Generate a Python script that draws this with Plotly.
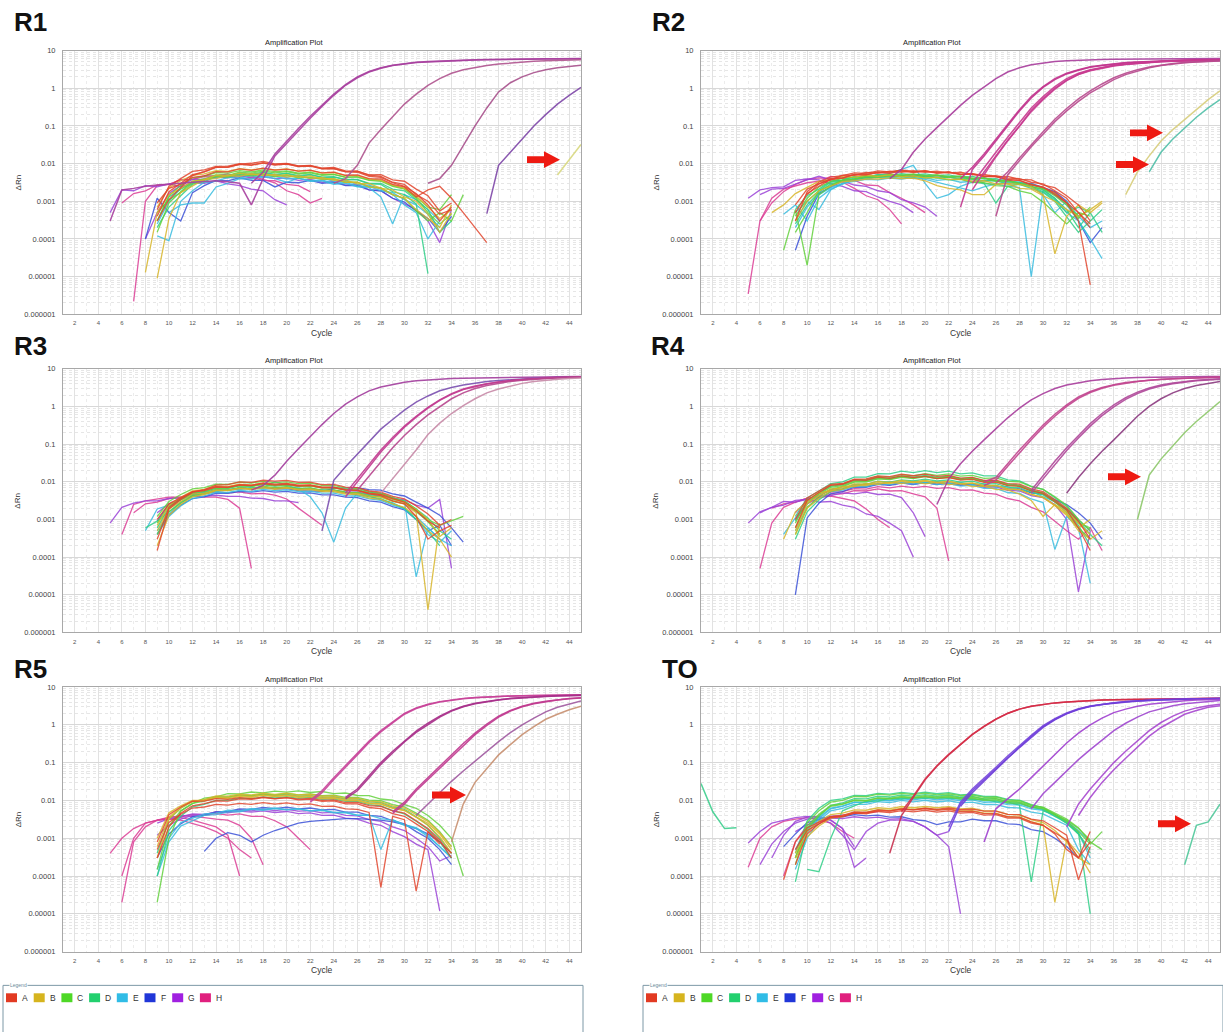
import plotly.graph_objects as go

W, H = 1223, 1032


def fx(x):
    return x / W


def fy(y):
    return 1 - y / H


# ---------------------------------------------------------------- data
CYCLE_TICKS = list(range(2, 45, 2))
DRN_TICKS = [1e-6, 1e-5, 1e-4, 1e-3, 1e-2, 1e-1, 1, 10]
DRN_LABELS = ["0.000001", "0.00001", "0.0001", "0.001", "0.01", "0.1", "1", "10"]
WELL_ROWS = ["A", "B", "C", "D", "E", "F", "G", "H"]

# baseline (non-amplifying) wells: (row, first cycle, ΔRn x 1e-3 per cycle)
r1_base = [
    ("A", 9, [0.4, 1.8, 3.0, 5.1, 6.0, 7.9, 8.1, 9.6, 10.2, 11.5, 9.8, 10.1, 8.7, 9.0, 7.6, 7.9, 6.4, 6.3, 4.9, 4.6, 3.2, 2.8, 1.5, 1.0, 0.45, 0.6]),
    ("A", 9, [0.9, 2.2, 2.8, 4.3, 4.7, 6.1, 6.0, 7.2, 6.6, 7.6, 6.7, 7.1, 6.3, 6.7, 5.7, 5.9, 4.9, 5.0, 4.0, 3.9, 2.8, 2.4, 1.3, 2.0, 2.5, 1.2, 0.5, 0.2, 0.08]),
    ("A", 9, [0.3, 1.1, 2.3, 4.8, 6.1, 8.0, 8.0, 9.5, 9.0, 10.3, 9.1, 9.7, 8.3, 8.6, 7.2, 7.4, 6.1, 6.3, 5.0, 5.1, 3.7, 3.4, 2.1, 1.4, 0.55, 0.9]),
    ("A", 9, [0.6, 2.5, 4.0, 6.2, 6.8, 8.4, 8.6, 9.9, 9.3, 10.6, 9.4, 9.9, 8.5, 8.8, 7.4, 7.4, 6.0, 5.9, 4.6, 4.3, 3.1, 2.5, 1.6, 0.8, 0.3, 0.7]),
    ("B", 8, [0.013, 0.5, 1.5, 2.2, 3.4, 3.7, 4.9, 4.7, 5.6, 5.1, 5.5, 4.7, 5.1, 4.3, 4.7, 3.9, 4.0, 3.2, 3.2, 2.4, 2.2, 1.5, 1.2, 0.6, 0.35, 0.2, 0.8]),
    ("B", 9, [0.009, 0.35, 1.7, 2.6, 3.8, 4.0, 4.9, 4.6, 5.4, 4.8, 5.2, 4.4, 4.8, 4.0, 4.3, 3.6, 3.7, 2.9, 3.0, 2.2, 2.0, 1.3, 1.0, 0.45, 0.15, 0.5]),
    ("B", 9, [0.7, 2.3, 3.5, 4.9, 5.3, 6.5, 6.2, 7.3, 6.8, 7.5, 6.8, 7.2, 6.3, 6.6, 5.6, 5.8, 4.8, 4.8, 3.9, 3.6, 2.7, 2.2, 1.4, 0.7, 0.35, 0.6]),
    ("C", 9, [0.15, 0.9, 1.8, 3.4, 3.9, 5.0, 4.9, 5.9, 5.6, 6.3, 5.7, 6.1, 5.3, 5.7, 4.9, 5.2, 4.3, 4.5, 3.7, 3.6, 2.6, 2.2, 1.3, 0.7, 0.6, 1.5]),
    ("C", 9, [0.5, 1.1, 1.7, 3.0, 3.6, 4.6, 4.4, 5.1, 4.7, 5.2, 4.5, 4.9, 4.2, 4.4, 3.8, 3.9, 3.2, 3.2, 2.4, 2.3, 1.5, 1.2, 0.55, 0.3, 0.5, 0.3, 1.5]),
    ("C", 9, [0.3, 1.4, 2.6, 4.2, 4.6, 5.8, 5.6, 6.5, 6.0, 6.8, 6.1, 6.4, 5.6, 5.9, 5.1, 5.2, 4.4, 4.4, 3.6, 3.4, 2.5, 2.1, 1.2, 0.5, 0.25, 0.45]),
    ("D", 9, [0.2, 0.7, 1.4, 2.8, 3.3, 4.5, 4.5, 5.3, 5.0, 5.7, 5.0, 5.4, 4.6, 5.0, 4.3, 4.4, 3.7, 3.7, 2.9, 2.8, 1.8, 1.5, 0.85, 0.012]),
    ("D", 9, [0.3, 1.3, 2.1, 3.3, 3.7, 4.8, 4.8, 5.6, 5.2, 5.9, 5.2, 5.6, 4.8, 5.2, 4.4, 4.5, 3.8, 3.8, 3.0, 3.0, 2.1, 1.9, 1.1, 0.6, 0.15, 0.3]),
    ("E", 9, [0.12, 0.09, 1.0, 1.9, 3.2, 3.4, 4.3, 4.1, 4.8, 4.3, 4.6, 3.9, 4.1, 3.4, 3.5, 2.8, 3.0, 2.4, 2.3, 1.3, 0.25, 1.5, 1.1, 0.6, 0.3]),
    ("E", 10, [0.5, 0.8, 0.9, 0.9, 2.4, 3.0, 4.0, 3.9, 4.6, 4.0, 3.2, 4.1, 3.5, 3.7, 3.0, 3.2, 2.5, 2.5, 1.9, 1.7, 1.1, 0.8, 0.45, 0.2]),
    ("E", 9, [0.25, 1.0, 2.2, 3.0, 3.9, 4.1, 4.9, 4.6, 5.3, 4.8, 5.1, 4.4, 4.7, 4.0, 4.1, 3.4, 3.5, 2.8, 2.7, 2.1, 1.5, 0.8, 0.5, 0.1, 0.3]),
    ("F", 8, [0.1, 1.2, 0.5, 0.3, 1.7, 2.6, 3.6, 3.5, 4.2, 3.6, 3.6, 2.4, 3.2, 3.1, 3.6, 3.0, 3.2, 2.6, 2.6, 2.0, 1.9, 1.2, 0.95, 0.55, 0.35, 0.15, 0.4]),
    ("G", 5, [0.5, 2.0, 1.9, 2.6, 2.4, 2.9, 2.4, 3.1, 3.0, 3.5, 2.9, 2.6, 2.1, 1.9, 1.1, 0.8]),
    ("G", 8, [0.1, 0.5, 1.6, 2.6, 3.8, 3.8, 4.5, 4.2, 4.8, 4.2, 4.6, 4.0, 4.2, 3.6, 3.8, 3.2, 3.3, 2.7, 2.8, 2.0, 1.9, 1.2, 0.85, 0.6, 0.3, 0.08, 0.6]),
    ("H", 7, [0.0022, 1.0, 2.6, 2.8, 3.7, 3.8, 4.5, 4.3, 4.8, 4.0, 4.2, 3.6, 3.5, 2.8, 2.6, 1.8]),
    ("H", 6, [0.9, 1.6, 1.9, 2.7, 2.8, 3.7, 3.8, 4.8, 4.7, 5.3, 4.6, 4.7, 3.8, 3.1, 1.9, 1.5, 0.9, 1.2]),
]
# amplifying wells: (row, first cycle, ΔRn per cycle)
r1_amp = [
    ("G", 5, [0.0003, 0.002, 0.0022, 0.0025, 0.0027, 0.0028, 0.003, 0.0032, 0.0033, 0.0035, 0.0033, 0.003, 0.0008, 0.004, 0.016, 0.035, 0.075, 0.16, 0.33, 0.65, 1.2, 1.9, 2.7, 3.4, 4.0, 4.4, 4.8, 5.0, 5.2, 5.4, 5.5, 5.6, 5.7, 5.8, 5.85, 5.9, 5.95, 6.0, 6.0, 6.05, 6.1]),
    ("G", 17, [0.003, 0.006, 0.018, 0.04, 0.085, 0.18, 0.36, 0.7, 1.25, 2.0, 2.8, 3.5, 4.1, 4.5, 4.9, 5.1, 5.3, 5.5, 5.6, 5.7, 5.8, 5.9, 5.95, 6.0, 6.05, 6.1, 6.1, 6.15, 6.2]),
    ("H", 24, [0.003, 0.004, 0.009, 0.035, 0.08, 0.18, 0.38, 0.7, 1.2, 1.8, 2.5, 3.1, 3.6, 4.0, 4.4, 4.7, 5.0, 5.2, 5.4, 5.5, 5.6, 5.7]),
    ("H", 32, [0.003, 0.004, 0.009, 0.03, 0.1, 0.3, 0.8, 1.4, 2.0, 2.6, 3.1, 3.5, 3.8, 4.1]),
    ("G", 37, [0.00047, 0.009, 0.02, 0.045, 0.1, 0.2, 0.38, 0.65, 1.05]),
    ("B", 43, [0.005, 0.013, 0.032]),
]

r2_base = [
    ("A", 9, [0.5, 1.6, 2.5, 3.8, 4.1, 5.1, 5.0, 5.8, 5.5, 6.3, 5.8, 6.2, 5.6, 5.9, 5.2, 5.4, 4.7, 4.8, 4.1, 4.0, 3.2, 2.9, 1.9, 1.2, 0.5, 0.25]),
    ("A", 9, [0.8, 2.1, 2.9, 4.0, 4.2, 5.2, 5.1, 5.9, 5.9, 6.8, 6.1, 6.5, 5.7, 6.0, 5.2, 5.4, 4.5, 4.5, 3.7, 3.6, 2.7, 2.4, 1.5, 0.9, 0.3, 0.006]),
    ("A", 10, [1.5, 2.9, 3.7, 4.9, 4.9, 5.8, 5.6, 6.3, 5.9, 6.5, 5.9, 6.3, 5.6, 5.9, 5.1, 5.2, 4.5, 4.6, 3.8, 3.7, 2.7, 2.3, 1.4, 0.8, 0.3]),
    ("A", 9, [0.3, 1.8, 3.2, 4.4, 4.8, 5.7, 5.5, 6.4, 6.0, 6.6, 6.0, 6.4, 5.7, 5.9, 5.2, 5.2, 4.6, 4.5, 3.8, 3.6, 2.8, 2.3, 1.7, 0.9, 0.5, 0.2]),
    ("B", 9, [0.3, 1.0, 1.9, 2.5, 3.3, 3.5, 3.9, 3.9, 4.2, 4.0, 4.1, 3.5, 2.6, 2.2, 2.0, 1.5, 1.5, 2.8, 3.0, 2.8, 2.4, 1.5, 0.04, 0.4, 0.8, 0.5, 0.9]),
    ("B", 7, [0.5, 0.8, 1.6, 2.3, 3.4, 3.7, 4.5, 4.4, 4.9, 4.6, 5.0, 4.5, 4.7, 4.2, 4.4, 3.8, 3.9, 3.4, 3.5, 2.9, 2.9, 2.2, 2.1, 1.4, 1.0, 0.6, 0.4, 0.6, 1.0]),
    ("C", 9, [0.15, 0.5, 1.9, 2.7, 3.7, 3.8, 4.6, 4.4, 5.0, 4.7, 5.1, 4.6, 4.9, 4.3, 4.5, 3.9, 4.1, 3.4, 3.4, 2.9, 2.5, 2.1, 1.4, 0.8, 0.4, 0.6]),
    ("C", 8, [0.05, 0.6, 0.02, 1.5, 2.5, 3.6, 3.8, 4.5, 4.3, 4.8, 4.4, 4.6, 4.2, 4.2, 3.7, 3.8, 3.2, 3.1, 2.6, 2.5, 1.9, 1.6, 0.95, 0.5, 0.25, 0.5, 0.4]),
    ("C", 9, [0.4, 1.2, 2.4, 3.3, 4.1, 4.3, 4.9, 4.7, 5.2, 4.9, 5.3, 4.8, 5.0, 4.5, 4.7, 4.1, 4.2, 3.6, 3.6, 3.0, 2.8, 2.2, 1.6, 0.9, 0.35, 0.7]),
    ("D", 9, [0.3, 1.0, 1.9, 3.2, 3.6, 4.5, 4.4, 5.1, 4.9, 5.4, 5.0, 5.3, 4.8, 5.0, 4.4, 4.6, 3.9, 4.0, 3.3, 3.2, 2.5, 2.0, 1.2, 0.6, 0.2, 0.5, 0.15]),
    ("D", 9, [0.6, 1.4, 2.1, 3.4, 3.7, 4.5, 4.3, 4.9, 4.6, 5.0, 4.5, 4.7, 4.2, 4.4, 3.8, 3.9, 3.0, 0.9, 2.5, 2.8, 2.4, 1.8, 1.1, 0.5, 0.7, 0.5]),
    ("D", 9, [0.25, 0.8, 1.7, 2.9, 3.4, 4.1, 4.0, 4.6, 4.4, 4.8, 4.5, 4.7, 4.3, 4.4, 4.0, 4.0, 3.5, 3.5, 2.9, 2.8, 2.2, 1.7, 1.0, 0.4, 0.15, 0.3, 0.6]),
    ("E", 8, [0.45, 0.8, 0.3, 1.2, 2.1, 2.8, 3.8, 3.8, 4.4, 4.1, 4.5, 4.0, 4.2, 3.6, 3.8, 3.2, 3.4, 2.9, 2.9, 2.5, 2.3, 0.01, 2.0, 1.2, 0.5, 0.3, 0.1]),
    ("E", 9, [0.5, 1.0, 0.6, 2.0, 3.0, 3.8, 4.5, 5.0, 5.5, 7.0, 9.0, 3.0, 1.2, 1.5, 2.5, 3.2, 3.5, 3.6, 3.4, 3.2, 2.8, 2.2, 1.5, 0.8, 0.3, 0.1, 0.03]),
    ("E", 9, [0.2, 0.7, 1.5, 2.3, 3.0, 3.4, 3.8, 3.7, 4.1, 3.9, 4.3, 3.8, 3.2, 2.6, 2.2, 1.9, 2.4, 2.9, 3.1, 2.9, 2.5, 1.5, 0.5, 1.0, 0.4, 0.2, 0.3]),
    ("F", 9, [0.05, 0.4, 1.6, 2.4, 3.4, 3.6, 4.4, 4.3, 4.9, 4.6, 5.0, 4.5, 4.8, 4.3, 4.6, 4.0, 4.2, 3.6, 3.7, 3.0, 3.0, 2.3, 1.8, 1.0, 0.3, 0.08, 0.2]),
    ("G", 5, [1.2, 2.0, 2.3, 2.4, 3.6, 3.9, 3.7, 2.9, 2.5, 1.9, 1.8, 1.3, 1.0, 0.8, 0.5]),
    ("G", 6, [1.5, 2.1, 2.2, 2.9, 3.7, 4.6, 3.7, 3.4, 2.7, 2.5, 1.9, 1.7, 1.1, 0.9, 0.7, 0.4]),
    ("H", 5, [0.0035, 0.3, 0.9, 1.8, 2.8, 3.8, 4.2, 4.0, 3.2, 2.2, 1.4, 1.1, 0.6, 0.25]),
    ("H", 6, [0.3, 1.2, 2.1, 2.5, 3.1, 3.4, 4.6, 4.1, 3.6, 2.7, 2.6, 1.7, 1.2, 0.8, 0.5]),
]
r2_amp = [
    ("G", 17, [0.004, 0.007, 0.02, 0.045, 0.09, 0.18, 0.35, 0.65, 1.1, 1.8, 2.7, 3.5, 4.2, 4.7, 5.1, 5.4, 5.6, 5.7, 5.8, 5.85, 5.9, 5.95, 6.0, 6.05, 6.1, 6.1, 6.15, 6.2, 6.2]),
    ("H", 23, [0.0007, 0.007, 0.016, 0.04, 0.1, 0.25, 0.55, 1.05, 1.7, 2.4, 3.0, 3.6, 4.0, 4.4, 4.7, 4.9, 5.1, 5.3, 5.4, 5.5, 5.6, 5.65, 5.7]),
    ("H", 23, [0.004, 0.008, 0.018, 0.045, 0.11, 0.27, 0.6, 1.1, 1.8, 2.5, 3.1, 3.7, 4.1, 4.5, 4.8, 5.0, 5.2, 5.4, 5.5, 5.6, 5.7, 5.75, 5.8]),
    ("H", 24, [0.003, 0.008, 0.02, 0.05, 0.12, 0.3, 0.6, 1.1, 1.8, 2.5, 3.1, 3.6, 4.1, 4.4, 4.7, 4.95, 5.15, 5.3, 5.4, 5.5, 5.6, 5.65]),
    ("H", 24, [0.002, 0.006, 0.016, 0.042, 0.1, 0.26, 0.53, 1.0, 1.65, 2.35, 3.0, 3.5, 4.0, 4.35, 4.65, 4.9, 5.1, 5.25, 5.35, 5.45, 5.55, 5.6]),
    ("H", 25, [0.005, 0.015, 0.04, 0.1, 0.24, 0.5, 0.95, 1.6, 2.3, 2.9, 3.4, 3.9, 4.3, 4.6, 4.85, 5.05, 5.2, 5.3, 5.4, 5.5, 5.55]),
    ("H", 26, [0.0004, 0.005, 0.012, 0.028, 0.06, 0.13, 0.25, 0.45, 0.75, 1.15, 1.7, 2.3, 2.9, 3.5, 4.0, 4.4, 4.75, 5.0, 5.2, 5.3]),
    ("H", 26, [0.003, 0.006, 0.014, 0.032, 0.07, 0.15, 0.29, 0.52, 0.85, 1.3, 1.9, 2.5, 3.1, 3.65, 4.15, 4.55, 4.85, 5.1, 5.25, 5.35]),
    ("B", 37, [0.0015, 0.006, 0.016, 0.04, 0.08, 0.15, 0.28, 0.5, 0.85]),
    ("D", 39, [0.006, 0.02, 0.045, 0.09, 0.17, 0.3, 0.5]),
]

r3_base = [
    ("A", 9, [0.3, 2.1, 3.6, 5.3, 5.8, 7.2, 7.1, 8.2, 7.9, 8.9, 8.2, 8.6, 7.7, 7.9, 6.9, 7.0, 6.0, 5.9, 5.0, 4.6, 3.6, 2.9, 1.7, 0.9, 0.6]),
    ("A", 9, [1.0, 2.6, 3.8, 5.5, 6.0, 7.4, 7.2, 8.4, 8.1, 9.3, 8.7, 9.1, 8.1, 8.3, 7.2, 7.2, 6.2, 5.9, 4.8, 4.3, 3.1, 2.6, 1.2, 0.3, 0.5, 0.7]),
    ("A", 9, [0.15, 1.9, 3.4, 5.3, 6.2, 8.2, 8.4, 9.9, 9.6, 11.0, 10.4, 10.9, 9.6, 9.8, 8.4, 8.5, 7.2, 7.0, 5.7, 5.3, 4.1, 3.5, 2.3, 1.4, 0.7, 1.0]),
    ("B", 9, [0.5, 1.9, 3.0, 4.7, 5.0, 6.1, 6.0, 6.8, 6.5, 7.4, 6.7, 7.1, 6.3, 6.5, 5.8, 5.8, 5.0, 4.9, 4.1, 3.9, 3.0, 2.6, 1.5, 0.004, 0.8]),
    ("B", 9, [0.2, 1.3, 2.5, 4.0, 4.6, 5.8, 5.8, 6.6, 6.2, 6.9, 6.3, 6.8, 6.0, 6.2, 5.5, 5.5, 4.7, 4.6, 3.7, 3.4, 2.6, 2.1, 1.2, 0.5, 0.3, 0.1]),
    ("B", 9, [0.7, 2.4, 3.9, 5.7, 6.3, 7.7, 7.5, 8.6, 8.2, 9.1, 8.4, 8.8, 7.9, 8.1, 7.1, 7.1, 6.1, 5.9, 4.9, 4.5, 3.5, 2.9, 1.8, 1.0, 0.35, 0.6]),
    ("C", 9, [0.8, 2.3, 3.4, 5.1, 5.6, 6.8, 6.7, 7.8, 7.5, 8.4, 7.7, 8.2, 7.4, 7.7, 6.8, 6.9, 5.9, 5.9, 4.9, 4.6, 3.4, 2.9, 1.8, 1.0, 0.7, 0.9, 1.2]),
    ("C", 9, [0.4, 1.6, 2.7, 4.2, 4.8, 6.0, 5.9, 6.9, 6.6, 7.4, 6.9, 7.3, 6.6, 6.8, 6.0, 6.1, 5.3, 5.2, 4.3, 4.0, 3.1, 2.6, 1.6, 0.9, 0.4]),
    ("C", 9, [1.2, 3.0, 4.6, 6.5, 7.0, 8.6, 8.5, 9.8, 9.3, 10.3, 9.5, 10.0, 8.9, 9.2, 8.0, 8.0, 6.8, 6.7, 5.5, 5.0, 3.8, 3.0, 1.9, 0.9, 0.4]),
    ("D", 9, [0.6, 2.1, 3.3, 4.9, 5.4, 6.7, 6.8, 7.8, 7.7, 8.6, 8.1, 8.5, 7.8, 8.0, 7.1, 7.2, 6.2, 6.2, 5.2, 4.9, 3.7, 3.1, 1.9, 1.1, 0.5, 0.3]),
    ("D", 8, [0.6, 0.9, 1.6, 2.9, 4.4, 4.9, 6.1, 6.0, 7.0, 6.7, 7.5, 6.9, 7.4, 6.6, 6.9, 5.9, 6.0, 5.1, 5.0, 4.0, 3.6, 2.6, 2.0, 1.0, 0.5, 0.2]),
    ("E", 9, [0.5, 1.4, 2.8, 4.0, 5.0, 5.6, 6.0, 6.4, 6.6, 7.0, 10.0, 8.0, 6.5, 4.0, 1.5, 0.25, 2.0, 5.0, 4.6, 4.2, 3.8, 3.0, 0.03, 0.6, 0.3]),
    ("E", 8, [0.5, 1.9, 2.4, 3.7, 4.3, 5.5, 5.6, 6.5, 6.2, 7.1, 6.7, 7.3, 6.7, 6.9, 6.1, 6.2, 5.4, 5.3, 4.4, 4.2, 3.3, 2.8, 1.9, 1.2, 0.6, 0.3, 0.2]),
    ("E", 9, [0.4, 1.2, 2.3, 3.6, 4.2, 5.2, 5.2, 5.9, 5.6, 6.3, 5.8, 6.1, 5.5, 5.6, 5.0, 5.0, 4.3, 4.2, 3.5, 3.2, 2.4, 1.9, 1.0, 0.4, 0.25, 0.5]),
    ("F", 9, [0.9, 2.5, 3.4, 4.6, 5.0, 6.1, 6.0, 6.9, 6.6, 7.3, 6.5, 6.6, 5.8, 5.8, 5.6, 6.7, 6.8, 7.0, 6.2, 6.0, 4.8, 4.2, 2.9, 2.0, 1.3, 0.6, 0.25]),
    ("F", 9, [0.4, 1.3, 2.4, 3.6, 4.0, 5.0, 4.9, 5.6, 5.3, 5.8, 5.3, 5.6, 5.0, 5.1, 4.5, 4.5, 3.9, 3.8, 3.1, 2.9, 2.2, 1.8, 1.0, 0.5, 0.7, 0.2]),
    ("G", 5, [0.8, 2.1, 2.7, 3.1, 3.1, 3.6, 3.7, 4.1, 4.1, 4.4, 4.1, 4.1, 3.7, 3.6, 3.1, 3.1, 2.8]),
    ("G", 9, [1.5, 2.6, 3.4, 4.7, 5.1, 6.1, 6.0, 6.8, 6.5, 7.1, 6.6, 6.9, 6.3, 6.5, 5.9, 6.0, 5.3, 5.4, 4.6, 4.5, 3.7, 3.3, 2.4, 2.0, 3.4, 0.05]),
    ("H", 6, [0.4, 2.5, 3.1, 3.4, 3.9, 3.9, 4.3, 3.9, 3.9, 3.4, 2.0, 0.05]),
    ("H", 7, [1.5, 2.6, 2.9, 3.6, 3.9, 4.7, 4.8, 5.4, 5.1, 5.4, 4.8, 4.9, 4.4, 3.5, 2.0, 1.2, 0.7]),
]
r3_amp = [
    ("G", 17, [0.006, 0.008, 0.015, 0.035, 0.075, 0.16, 0.33, 0.65, 1.15, 1.8, 2.6, 3.3, 3.9, 4.4, 4.8, 5.1, 5.3, 5.5, 5.6, 5.7, 5.8, 5.9, 5.95, 6.0, 6.05, 6.1, 6.15, 6.2, 6.25]),
    ("G", 23, [0.0005, 0.011, 0.025, 0.055, 0.12, 0.25, 0.45, 0.8, 1.3, 1.9, 2.6, 3.2, 3.7, 4.2, 4.6, 4.9, 5.2, 5.4, 5.6, 5.8, 5.9, 6.0, 6.1]),
    ("H", 25, [0.005, 0.012, 0.03, 0.07, 0.15, 0.3, 0.55, 0.95, 1.5, 2.2, 2.9, 3.5, 4.0, 4.5, 4.9, 5.2, 5.5, 5.7, 5.85, 6.0, 6.1]),
    ("H", 25, [0.004, 0.01, 0.026, 0.062, 0.135, 0.28, 0.52, 0.9, 1.45, 2.1, 2.8, 3.4, 3.95, 4.45, 4.85, 5.15, 5.45, 5.65, 5.8, 5.95, 6.05]),
    ("H", 26, [0.006, 0.014, 0.035, 0.08, 0.17, 0.33, 0.6, 1.0, 1.6, 2.3, 3.0, 3.6, 4.1, 4.6, 5.0, 5.3, 5.6, 5.8, 5.95, 6.05]),
    ("H", 28, [0.005, 0.012, 0.03, 0.07, 0.18, 0.36, 0.65, 1.05, 1.6, 2.3, 2.9, 3.5, 4.1, 4.6, 5.0, 5.3, 5.5, 5.7]),
]

r4_base = [
    ("A", 9, [0.6, 3.2, 5.2, 8.0, 8.6, 11.2, 11.0, 13.3, 12.4, 14.3, 12.9, 14.0, 12.2, 13.0, 11.1, 11.6, 9.7, 9.8, 7.9, 7.6, 5.7, 4.9, 3.0, 1.8, 0.6, 0.15]),
    ("A", 9, [1.0, 3.7, 5.7, 8.5, 9.0, 11.7, 11.9, 14.3, 13.8, 15.9, 14.5, 15.9, 13.9, 14.8, 12.5, 13.1, 10.9, 11.1, 8.9, 8.7, 6.5, 5.5, 3.4, 2.0, 0.9, 0.3]),
    ("B", 9, [0.5, 2.7, 4.3, 6.4, 6.9, 8.8, 8.6, 10.2, 9.5, 10.9, 9.9, 10.9, 9.6, 10.4, 8.9, 9.4, 7.9, 8.0, 6.5, 6.2, 4.6, 3.8, 2.3, 1.3, 0.6, 1.0]),
    ("B", 8, [0.3, 1.6, 3.0, 5.1, 5.7, 7.4, 7.4, 8.9, 8.5, 9.8, 8.9, 10.0, 8.8, 9.6, 8.4, 8.9, 7.5, 7.7, 6.3, 6.1, 4.7, 3.2, 1.2, 2.5, 1.6, 0.8, 0.4]),
    ("B", 9, [0.4, 2.0, 3.6, 5.7, 6.3, 8.0, 7.9, 9.5, 9.0, 10.3, 9.5, 10.5, 9.4, 10.1, 8.8, 9.2, 7.8, 7.9, 6.4, 6.2, 4.6, 3.9, 2.4, 1.4, 0.5, 0.3, 0.5]),
    ("C", 9, [0.8, 3.2, 5.2, 8.0, 8.7, 11.4, 11.4, 13.8, 13.1, 15.4, 14.3, 16.4, 14.8, 16.2, 14.1, 14.8, 12.4, 12.7, 10.3, 9.9, 7.4, 6.3, 4.0, 2.4, 1.0, 0.5]),
    ("C", 9, [0.4, 2.1, 4.0, 6.4, 7.4, 9.8, 9.8, 11.9, 11.4, 13.2, 12.2, 13.8, 12.2, 13.2, 11.4, 12.0, 10.0, 10.2, 8.1, 7.7, 5.7, 4.8, 2.9, 1.5, 0.6, 0.3]),
    ("C", 9, [0.6, 2.6, 4.7, 7.1, 7.9, 10.3, 10.2, 12.4, 11.8, 13.7, 12.6, 14.2, 12.6, 13.6, 11.7, 12.3, 10.2, 10.4, 8.3, 7.9, 5.9, 5.0, 3.1, 1.9, 0.8, 0.6]),
    ("D", 9, [1.2, 3.7, 5.7, 9.0, 10.0, 13.3, 13.3, 16.4, 16.2, 19.1, 17.6, 19.9, 17.6, 19.1, 16.3, 17.2, 14.3, 14.3, 11.2, 10.6, 7.6, 6.3, 3.8, 2.2, 1.0]),
    ("D", 9, [0.3, 1.6, 3.3, 5.6, 6.5, 8.5, 8.6, 10.4, 9.8, 11.3, 10.5, 11.8, 10.5, 11.3, 9.8, 10.4, 8.7, 8.9, 7.2, 7.0, 5.2, 4.5, 2.9, 1.8, 0.9, 0.4, 0.2]),
    ("D", 9, [0.9, 3.0, 5.0, 7.6, 8.4, 10.9, 10.8, 13.0, 12.4, 14.3, 13.2, 14.8, 13.1, 14.1, 12.2, 12.8, 10.6, 10.8, 8.6, 8.2, 6.1, 5.1, 3.2, 1.7, 0.7, 0.2]),
    ("E", 9, [0.5, 2.1, 3.6, 5.5, 6.0, 7.6, 7.5, 8.9, 8.4, 9.5, 8.7, 9.5, 8.4, 9.0, 7.7, 8.1, 6.7, 6.7, 5.2, 4.9, 3.5, 2.8, 0.16, 1.2, 0.6, 0.02]),
    ("E", 8, [0.4, 1.1, 2.7, 4.9, 5.7, 7.4, 7.4, 8.9, 8.5, 9.9, 9.1, 10.4, 9.3, 10.3, 9.0, 9.7, 8.4, 8.8, 7.3, 7.4, 5.9, 5.6, 4.0, 3.0, 1.9, 1.0, 0.5]),
    ("F", 9, [0.01, 1.1, 2.7, 4.8, 5.5, 7.2, 7.1, 8.5, 8.0, 9.2, 8.5, 9.5, 8.6, 9.4, 8.3, 8.9, 7.6, 7.9, 6.6, 6.5, 5.1, 4.7, 3.3, 2.5, 1.5, 0.8, 0.3]),
    ("G", 5, [0.8, 1.6, 2.1, 3.0, 2.9, 3.4, 2.9, 3.0, 2.4, 2.1, 1.4, 1.2, 0.8, 0.5, 0.1]),
    ("G", 6, [1.5, 2.1, 2.4, 3.2, 3.4, 4.2, 4.3, 5.1, 4.8, 5.3, 4.6, 4.7, 3.8, 1.5, 0.35]),
    ("G", 9, [1.5, 3.2, 4.3, 6.1, 6.5, 7.9, 7.6, 8.9, 8.3, 9.4, 8.6, 9.5, 8.5, 9.2, 8.0, 8.5, 7.1, 7.3, 5.9, 5.7, 4.3, 3.8, 2.5, 1.0, 0.012, 0.5]),
    ("H", 6, [0.05, 0.8, 2.1, 2.9, 3.7, 3.8, 4.2, 3.6, 3.1, 1.9, 1.0, 0.6]),
    ("H", 7, [2.0, 2.6, 2.9, 3.7, 3.8, 4.7, 4.8, 5.8, 5.7, 6.5, 5.7, 5.8, 4.8, 4.0, 2.0, 0.08]),
    ("H", 9, [1.0, 2.6, 3.8, 5.3, 5.5, 6.6, 6.4, 7.4, 6.9, 7.7, 7.0, 7.6, 6.7, 7.0, 6.0, 6.1, 5.0, 4.7, 3.6, 3.1, 2.1, 1.6, 0.9, 0.5, 0.3, 0.6, 0.15]),
]
r4_amp = [
    ("G", 21, [0.0025, 0.012, 0.03, 0.065, 0.13, 0.26, 0.5, 0.9, 1.5, 2.2, 3.0, 3.7, 4.3, 4.8, 5.2, 5.5, 5.7, 5.85, 5.95, 6.0, 6.1, 6.15, 6.2, 6.2, 6.25]),
    ("H", 25, [0.01, 0.013, 0.03, 0.07, 0.15, 0.32, 0.62, 1.1, 1.8, 2.5, 3.2, 3.8, 4.3, 4.7, 5.0, 5.3, 5.5, 5.65, 5.8, 5.9, 6.0]),
    ("H", 25, [0.008, 0.011, 0.026, 0.06, 0.13, 0.28, 0.55, 1.0, 1.65, 2.35, 3.05, 3.65, 4.15, 4.6, 4.95, 5.25, 5.45, 5.6, 5.75, 5.85, 5.95]),
    ("H", 29, [0.006, 0.015, 0.035, 0.08, 0.17, 0.35, 0.65, 1.1, 1.7, 2.4, 3.1, 3.7, 4.2, 4.6, 4.95, 5.2, 5.4]),
    ("H", 29, [0.005, 0.012, 0.029, 0.068, 0.145, 0.3, 0.57, 0.98, 1.55, 2.2, 2.9, 3.5, 4.0, 4.45, 4.8, 5.05, 5.3]),
    ("H", 32, [0.005, 0.013, 0.03, 0.065, 0.13, 0.27, 0.55, 1.0, 1.6, 2.3, 3.0, 3.6, 4.1, 4.6]),
    ("C", 38, [0.001, 0.015, 0.04, 0.09, 0.2, 0.4, 0.75, 1.35]),
]

r5_base = [
    ("A", 9, [0.8, 4.2, 6.7, 9.5, 9.6, 11.1, 10.6, 11.8, 11.1, 12.2, 11.1, 11.8, 10.4, 10.8, 9.4, 9.7, 8.1, 8.1, 6.5, 6.1, 4.5, 3.8, 2.4, 1.5, 0.8, 0.4]),
    ("A", 9, [0.5, 2.6, 4.3, 6.3, 6.7, 7.9, 7.5, 8.4, 7.9, 8.7, 8.0, 8.6, 7.7, 8.1, 7.0, 7.1, 6.0, 5.8, 4.8, 0.05, 3.8, 3.1, 0.04, 1.5, 0.7]),
    ("A", 9, [0.3, 2.0, 4.6, 7.2, 8.2, 9.8, 9.6, 11.0, 10.6, 11.8, 11.0, 11.8, 10.8, 11.3, 10.0, 10.3, 8.8, 8.9, 7.3, 7.0, 5.3, 4.6, 2.9, 1.8, 0.9, 0.3]),
    ("B", 9, [0.3, 3.2, 6.2, 9.5, 10.5, 13.2, 13.0, 14.7, 14.0, 15.5, 14.5, 15.5, 14.0, 14.7, 12.9, 13.3, 11.4, 11.5, 9.6, 9.2, 7.2, 6.3, 4.2, 2.8, 1.4, 0.6]),
    ("B", 9, [1.0, 4.7, 7.2, 10.0, 10.1, 11.6, 11.1, 12.6, 12.1, 13.6, 12.6, 13.4, 12.1, 12.6, 11.1, 11.5, 9.9, 9.9, 8.3, 7.9, 6.2, 5.4, 3.6, 2.5, 1.3, 0.5]),
    ("B", 9, [0.6, 3.6, 6.6, 9.3, 10.2, 12.0, 11.8, 13.3, 12.7, 14.1, 13.1, 14.0, 12.7, 13.3, 11.7, 12.1, 10.4, 10.4, 8.6, 8.2, 6.4, 5.5, 3.6, 2.2, 1.1, 0.4]),
    ("C", 9, [0.02, 1.0, 5.2, 8.2, 11.5, 12.5, 15.2, 14.9, 16.7, 15.9, 17.6, 16.5, 17.8, 16.2, 17.2, 15.2, 15.7, 13.5, 13.4, 10.9, 10.2, 7.7, 6.2, 4.0, 2.2, 1.0, 0.1]),
    ("C", 9, [0.15, 2.1, 5.3, 8.4, 9.6, 12.1, 12.0, 13.8, 13.3, 14.9, 14.0, 15.3, 14.0, 14.9, 13.3, 13.8, 12.0, 12.1, 10.2, 9.8, 7.7, 6.8, 4.6, 3.0, 1.5, 0.6]),
    ("D", 9, [0.4, 3.2, 6.2, 9.5, 10.3, 12.6, 12.3, 14.0, 13.3, 14.7, 13.5, 14.5, 13.0, 13.6, 12.0, 12.5, 10.9, 11.0, 9.1, 8.8, 6.7, 5.8, 3.7, 2.2, 1.0, 0.4]),
    ("D", 9, [0.1, 1.6, 3.8, 6.8, 7.9, 10.0, 10.0, 11.5, 11.1, 12.4, 11.6, 12.6, 11.4, 12.0, 10.6, 11.0, 9.4, 9.4, 7.7, 7.2, 5.4, 4.4, 2.8, 1.7, 0.8, 0.3]),
    ("E", 9, [0.15, 1.0, 2.6, 3.4, 4.4, 4.6, 5.5, 5.3, 6.1, 5.8, 6.3, 5.7, 6.0, 5.3, 5.5, 4.7, 4.7, 4.0, 4.1, 0.5, 3.1, 2.3, 1.9, 1.2, 0.6, 0.3]),
    ("E", 9, [0.1, 0.8, 2.1, 2.9, 4.0, 4.2, 5.0, 5.0, 5.8, 5.5, 6.1, 5.6, 6.0, 5.3, 5.6, 4.8, 4.9, 4.1, 4.1, 3.3, 3.0, 2.2, 1.8, 1.1, 0.6, 0.3]),
    ("F", 9, [0.3, 1.3, 2.4, 3.7, 4.0, 5.0, 5.1, 6.0, 5.8, 6.5, 6.1, 6.6, 6.0, 6.3, 5.6, 5.8, 4.9, 4.9, 4.0, 3.8, 2.9, 2.4, 1.5, 1.0, 0.5, 0.2]),
    ("F", 13, [0.45, 1.0, 1.4, 1.2, 0.8, 1.2, 1.6, 2.0, 2.5, 2.8, 3.0, 3.2, 3.3, 3.3, 3.2, 3.0, 2.7, 2.3, 1.8, 1.3, 0.8, 0.4]),
    ("G", 9, [2.5, 3.3, 3.7, 4.4, 4.3, 4.9, 4.7, 5.2, 4.9, 5.3, 4.8, 5.1, 4.5, 4.7, 4.0, 4.1, 3.4, 3.2, 2.5, 2.2, 1.5, 1.1, 0.7, 0.5, 0.012]),
    ("G", 9, [1.2, 2.2, 3.2, 4.0, 4.2, 5.0, 4.9, 5.6, 5.3, 5.9, 5.4, 5.8, 5.2, 5.4, 4.7, 4.8, 4.0, 3.9, 3.1, 2.8, 2.0, 1.6, 1.0, 0.6, 0.25, 0.35]),
    ("H", 5, [0.4, 1.0, 1.8, 2.5, 3.0, 3.2, 3.0, 2.5, 2.0, 1.5, 1.0, 0.5, 0.3]),
    ("H", 6, [0.02, 0.8, 2.0, 3.0, 3.2, 3.5, 3.0, 2.5, 2.0, 1.2, 0.1]),
    ("H", 6, [0.1, 1.0, 2.5, 3.0, 3.5, 4.0, 3.8, 3.5, 3.2, 3.0, 2.2, 1.0, 0.2]),
    ("H", 9, [3.0, 3.6, 3.7, 4.2, 4.0, 4.5, 4.1, 4.4, 3.8, 3.8, 2.9, 2.0, 1.0, 0.5]),
]
r5_amp = [
    ("H", 22, [0.01, 0.018, 0.04, 0.085, 0.17, 0.37, 0.7, 1.2, 2.0, 2.8, 3.5, 4.1, 4.6, 5.0, 5.3, 5.5, 5.7, 5.8, 5.9, 6.0, 6.05, 6.1, 6.15, 6.2]),
    ("H", 22, [0.009, 0.016, 0.036, 0.078, 0.16, 0.34, 0.65, 1.12, 1.9, 2.7, 3.4, 4.0, 4.5, 4.9, 5.2, 5.45, 5.65, 5.75, 5.85, 5.95, 6.0, 6.05, 6.1, 6.15]),
    ("H", 25, [0.012, 0.02, 0.045, 0.1, 0.2, 0.38, 0.68, 1.1, 1.7, 2.4, 3.1, 3.7, 4.2, 4.6, 5.0, 5.3, 5.5, 5.7, 5.85, 5.95, 6.05]),
    ("H", 25, [0.011, 0.018, 0.04, 0.09, 0.18, 0.35, 0.63, 1.03, 1.6, 2.3, 3.0, 3.6, 4.1, 4.5, 4.9, 5.2, 5.4, 5.6, 5.75, 5.85, 5.95]),
    ("H", 29, [0.005, 0.009, 0.02, 0.04, 0.08, 0.16, 0.32, 0.6, 1.05, 1.7, 2.4, 3.1, 3.7, 4.2, 4.6, 4.95, 5.2]),
    ("H", 29, [0.0045, 0.008, 0.018, 0.036, 0.072, 0.145, 0.29, 0.55, 0.97, 1.6, 2.3, 3.0, 3.6, 4.1, 4.5, 4.85, 5.1]),
    ("G", 31, [0.004, 0.008, 0.016, 0.032, 0.06, 0.11, 0.2, 0.36, 0.62, 1.0, 1.5, 2.2, 2.9, 3.6, 4.3]),
    ("A", 34, [0.0008, 0.008, 0.03, 0.07, 0.16, 0.3, 0.55, 0.9, 1.4, 1.9, 2.5, 3.1]),
]

to_base = [
    ("A", 8, [0.08, 0.8, 1.9, 2.7, 3.7, 3.8, 4.6, 4.4, 5.1, 4.8, 5.4, 5.0, 5.5, 4.9, 5.3, 4.6, 4.8, 4.1, 4.2, 3.4, 3.4, 2.5, 2.2, 1.4, 0.9, 0.3, 1.5]),
    ("A", 9, [0.5, 1.6, 2.4, 3.5, 3.7, 4.7, 4.6, 5.4, 5.2, 5.9, 5.6, 6.2, 5.8, 6.3, 5.7, 5.9, 5.2, 5.2, 4.3, 4.2, 3.2, 2.9, 1.9, 1.2, 0.08, 0.6]),
    ("A", 9, [0.2, 1.3, 2.4, 3.7, 4.0, 5.0, 4.8, 5.6, 5.3, 6.0, 5.6, 6.1, 5.5, 5.8, 5.1, 5.2, 4.5, 4.5, 3.7, 3.6, 2.7, 2.2, 1.3, 0.5, 0.3, 0.8]),
    ("B", 9, [0.3, 1.1, 2.1, 3.4, 3.8, 4.9, 4.8, 5.7, 5.5, 6.2, 5.8, 6.3, 5.7, 6.0, 5.3, 5.4, 4.6, 4.6, 3.7, 3.6, 2.7, 2.3, 0.02, 0.9, 0.4, 0.12]),
    ("B", 9, [0.4, 1.5, 2.8, 4.2, 4.6, 5.6, 5.5, 6.4, 6.1, 6.9, 6.4, 7.0, 6.4, 6.8, 6.0, 6.2, 5.3, 5.3, 4.3, 4.1, 3.1, 2.6, 1.6, 0.8, 0.3, 0.2]),
    ("C", 9, [0.2, 2.1, 4.3, 7.4, 8.1, 10.1, 9.8, 11.4, 10.9, 12.2, 11.4, 12.5, 11.4, 12.2, 10.9, 11.4, 10.0, 10.3, 8.6, 8.5, 6.7, 6.1, 4.2, 3.0, 1.8, 0.9]),
    ("C", 9, [0.3, 2.6, 5.3, 9.0, 10.0, 12.7, 12.5, 14.6, 13.8, 15.3, 14.3, 15.5, 14.1, 15.0, 13.4, 13.9, 12.1, 12.3, 10.2, 9.8, 7.5, 6.4, 4.2, 2.8, 1.5, 0.7, 1.5]),
    ("C", 9, [0.3, 1.8, 4.0, 7.0, 7.9, 10.0, 9.9, 11.7, 11.3, 12.8, 12.1, 13.3, 12.2, 13.1, 11.7, 12.3, 10.8, 11.1, 9.4, 9.2, 7.3, 6.6, 4.6, 3.2, 1.9, 0.8, 0.5]),
    ("D", 9, [0.07, 1.6, 3.8, 7.4, 8.6, 11.1, 11.0, 12.9, 12.3, 13.9, 13.0, 14.3, 13.0, 13.9, 12.3, 12.8, 11.0, 11.1, 9.2, 8.8, 6.7, 5.8, 3.8, 2.5, 1.3, 0.4]),
    ("D", 10, [0.15, 0.13, 1.0, 5.3, 7.2, 9.5, 9.6, 11.4, 10.9, 12.2, 11.4, 12.4, 11.2, 11.9, 10.5, 10.8, 9.2, 9.2, 7.5, 0.07, 5.3, 4.2, 2.5, 1.4, 0.01]),
    ("D", 9, [0.4, 2.9, 6.2, 10.0, 11.0, 13.5, 13.3, 15.4, 14.6, 16.4, 15.2, 16.6, 15.0, 16.0, 14.1, 14.7, 12.7, 12.8, 10.6, 10.1, 7.7, 6.5, 4.2, 2.6, 1.3, 0.5]),
    ("E", 9, [0.5, 1.9, 3.6, 6.3, 7.2, 9.0, 8.8, 10.3, 9.8, 11.0, 10.3, 11.3, 10.3, 11.0, 9.8, 10.3, 8.9, 9.1, 7.7, 7.6, 6.0, 5.5, 3.8, 2.8, 1.6, 0.8]),
    ("E", 9, [0.15, 1.0, 2.9, 5.3, 6.2, 7.9, 7.9, 9.3, 8.8, 10.0, 9.2, 10.1, 9.1, 9.8, 8.6, 9.0, 7.8, 7.9, 6.5, 6.3, 4.9, 4.4, 3.1, 2.2, 0.5, 0.2]),
    ("E", 9, [0.3, 1.4, 3.3, 6.0, 7.0, 8.9, 8.9, 10.6, 10.2, 11.6, 10.9, 12.0, 11.0, 11.8, 10.6, 11.1, 9.7, 9.9, 8.4, 8.2, 6.6, 5.9, 4.2, 2.9, 1.4, 0.3]),
    ("F", 8, [0.6, 1.3, 2.6, 3.1, 3.8, 3.7, 4.2, 3.9, 4.1, 3.6, 3.7, 3.1, 2.9, 2.3, 2.7, 2.7, 3.2, 2.9, 2.9, 2.4, 2.3, 1.7, 1.5, 1.0, 0.6, 0.3]),
    ("G", 5, [0.75, 1.5, 2.5, 3.0, 3.5, 3.8, 3.5, 2.5, 1.2, 0.5, 1.5, 2.5, 3.0, 3.0, 2.8, 2.0, 1.2, 0.6, 0.01]),
    ("G", 6, [0.2, 0.7, 1.5, 2.5, 3.2, 3.5, 3.0, 1.8, 0.17, 0.3]),
    ("G", 7, [0.3, 1.2, 2.8, 3.6, 3.8, 3.0, 1.8, 0.6]),
    ("G", 9, [1.5, 2.3, 2.7, 3.4, 3.3, 3.7, 3.4, 3.6, 3.2, 3.3, 2.8, 2.0, 1.2, 1.5]),
    ("H", 5, [0.17, 1.0, 2.0, 2.8, 3.2, 3.5, 3.0, 2.5, 1.5, 1.0]),
    ("H", 8, [0.1, 0.8, 2.2, 3.2, 3.8, 4.2, 4.5, 4.8, 5.0]),
]
to_amp = [
    ("D", 1, [0.028, 0.005, 0.0018, 0.0019]),
    ("H", 17, [0.0004, 0.004, 0.012, 0.035, 0.08, 0.16, 0.3, 0.55, 0.9, 1.4, 2.0, 2.6, 3.1, 3.5, 3.8, 4.0, 4.2, 4.35, 4.5, 4.6, 4.65, 4.7, 4.75, 4.8, 4.85, 4.9, 4.95, 5.0, 5.0]),
    ("A", 18, [0.005, 0.013, 0.037, 0.083, 0.165, 0.31, 0.56, 0.92, 1.42, 2.02, 2.6, 3.1, 3.5, 3.8, 4.0, 4.2, 4.35, 4.5, 4.6, 4.65, 4.7, 4.75, 4.8, 4.85, 4.9, 4.95, 5.0, 5.0]),
    ("F", 22, [0.0015, 0.008, 0.018, 0.035, 0.07, 0.14, 0.27, 0.5, 0.9, 1.4, 2.0, 2.6, 3.1, 3.5, 3.8, 4.1, 4.3, 4.45, 4.6, 4.7, 4.8, 4.85, 4.9, 4.95]),
    ("F", 22, [0.002, 0.009, 0.02, 0.038, 0.075, 0.15, 0.29, 0.53, 0.95, 1.45, 2.05, 2.65, 3.15, 3.55, 3.85, 4.15, 4.35, 4.5, 4.65, 4.75, 4.85, 4.9, 4.95, 5.0]),
    ("F", 23, [0.007, 0.016, 0.032, 0.065, 0.13, 0.25, 0.47, 0.85, 1.35, 1.95, 2.55, 3.05, 3.45, 3.75, 4.05, 4.25, 4.4, 4.55, 4.65, 4.75, 4.8, 4.85, 4.9]),
    ("G", 25, [0.0008, 0.006, 0.011, 0.02, 0.04, 0.08, 0.16, 0.33, 0.6, 1.0, 1.5, 2.1, 2.6, 3.1, 3.5, 3.8, 4.1, 4.3, 4.5, 4.6, 4.7]),
    ("G", 29, [0.006, 0.015, 0.03, 0.06, 0.12, 0.22, 0.4, 0.7, 1.1, 1.6, 2.2, 2.7, 3.2, 3.6, 3.9, 4.2, 4.4]),
    ("G", 32, [0.002, 0.008, 0.02, 0.045, 0.1, 0.2, 0.38, 0.7, 1.15, 1.7, 2.3, 2.8, 3.2, 3.5]),
    ("G", 33, [0.004, 0.012, 0.03, 0.065, 0.13, 0.26, 0.5, 0.85, 1.3, 1.9, 2.4, 2.9, 3.2]),
    ("D", 42, [0.0002, 0.0022, 0.0027, 0.008]),
]

# ---------------------------------------------------------------- styles
ROW_COLORS = {"A": "#e2462e", "B": "#d8b62c", "C": "#64d23e", "D": "#30cf88",
              "E": "#3abde0", "F": "#3c52d8", "G": "#9c44d8", "H": "#dc3e96"}
LEGEND_COLORS = {"A": "#e23a22", "B": "#d6b41e", "C": "#4ed826", "D": "#22d06e",
                 "E": "#30bce6", "F": "#2036d8", "G": "#a020e0", "H": "#e0207e"}
AMP_COLORS = {
    "R1": ["#a8409f", "#a8409f", "#b0548f", "#a8508c", "#7e46a8", "#d9d97f"],
    "R2": ["#a83c9c", "#c2348e", "#c2348e", "#c83a90", "#c83a90", "#c83a90", "#b84a8e", "#b84a8e", "#d8ce7c", "#4fbfa8"],
    "R3": ["#a33e9e", "#7b4fb0", "#c23a90", "#c23a90", "#b8468e", "#c88aa8"],
    "R4": ["#a83c9c", "#c2448f", "#c2448f", "#b0489a", "#b0489a", "#8c3a80", "#8dc86a"],
    "R5": ["#c8449a", "#c8449a", "#a8308a", "#a8308a", "#c03a90", "#c03a90", "#a05aa0", "#c89070"],
    "TO": ["#3fcf8f", "#c8304e", "#d8304a", "#7040e0", "#7848dc", "#7040d8", "#a040d0", "#a048d0", "#a848d0", "#a848d0", "#4fc89a"],
}
COL_X = [(63, 581), (701, 1220)]
ROW_Y = [(47, 313), (368, 634), (689, 956)]
PANELS = [
    ("R1", r1_base, r1_amp, 0, 0, (30, 18)),
    ("R2", r2_base, r2_amp, 1, 0, (668, 18)),
    ("R3", r3_base, r3_amp, 0, 1, (30, 345)),
    ("R4", r4_base, r4_amp, 1, 1, (668, 345)),
    ("R5", r5_base, r5_amp, 0, 2, (30, 671)),
    ("TO", to_base, to_amp, 1, 2, (680, 671)),
]
FONT = "Liberation Sans, Arial, sans-serif"


def note(text, x, y, size, color, **kw):
    d = dict(text=text, x=fx(x), y=fy(y), xref="paper", yref="paper", showarrow=False,
             xanchor="center", yanchor="middle",
             font=dict(family=FONT, size=size, color=color))
    d.update(kw)
    return d


fig = go.Figure()
annotations = []
shapes = []
minor_y = [k * 10.0 ** e for e in range(-6, 1) for k in range(2, 10)]

for i, (name, base, amp, col, row, lab) in enumerate(PANELS, start=1):
    xa = "x" if i == 1 else f"x{i}"
    ya = "y" if i == 1 else f"y{i}"
    x0, x1 = COL_X[col]
    y0, y1 = ROW_Y[row]

    order = sorted(base, key=lambda t: WELL_ROWS.index(t[0]), reverse=True)
    for well_row, start, vals in order:
        fig.add_trace(go.Scatter(
            x=list(range(start, start + len(vals))), y=[v * 1e-3 for v in vals],
            mode="lines", line=dict(color=ROW_COLORS[well_row], width=1.3),
            opacity=0.85, xaxis=xa, yaxis=ya, showlegend=False, hoverinfo="skip"))
    for (well_row, start, vals), colr in zip(amp, AMP_COLORS[name]):
        fig.add_trace(go.Scatter(
            x=list(range(start, start + len(vals))), y=vals,
            mode="lines", line=dict(color=colr, width=1.5),
            opacity=0.9, xaxis=xa, yaxis=ya, showlegend=False, hoverinfo="skip"))

    fig.layout[f"xaxis{'' if i == 1 else i}"] = dict(
        domain=[fx(x0), fx(x1)], anchor=ya, range=[1, 45],
        tickmode="array", tickvals=CYCLE_TICKS, ticks="", ticklabelstandoff=3,
        tickfont=dict(family=FONT, size=6, color="#555"),
        showgrid=True, gridcolor="#e2e2e2", gridwidth=1, zeroline=False,
        minor=dict(dtick=1, tick0=1, showgrid=True, gridcolor="#ececec", griddash="dot"),
        showline=True, linecolor="#a8a8a8", linewidth=1, mirror=True)
    fig.layout[f"yaxis{'' if i == 1 else i}"] = dict(
        domain=[fy(y1), fy(y0)], anchor=xa, type="log", range=[-6, 1],
        tickmode="array", tickvals=DRN_TICKS, ticktext=DRN_LABELS, ticks="",
        ticklabelstandoff=5, tickfont=dict(family=FONT, size=7.5, color="#444"),
        showgrid=True, gridcolor="#d8d8d8", gridwidth=1, zeroline=False,
        minor=dict(tickmode="array", tickvals=minor_y, showgrid=True,
                   gridcolor="#e6e6e6", griddash="dot"),
        showline=True, linecolor="#a8a8a8", linewidth=1, mirror=True)

    annotations.append(note("<b>" + name + "</b>", lab[0], lab[1], 26, "#111"))
    annotations.append(note("Amplification Plot", x0 + 231, y0 - 8, 7.5, "#222"))
    annotations.append(note("Cycle", (x0 + x1) / 2, y1 + 19, 8.5, "#333"))
    annotations.append(note("ΔRn", x0 - 45, (y0 + y1) / 2, 8, "#333", textangle=-90))

# red arrows (tail x, tip x, centre y in pixels)
ARROWS = [(527, 560, 157), (1130, 1163, 130), (1116, 1149, 162),
          (1108, 1141, 477), (432, 466, 798), (1158, 1191, 827)]
for ax0, ax1, ayc in ARROWS:
    hx = ax1 - 16
    pts = [(ax0, ayc - 3.5), (hx, ayc - 3.5), (hx, ayc - 8.5), (ax1, ayc),
           (hx, ayc + 8.5), (hx, ayc + 3.5), (ax0, ayc + 3.5)]
    path = "M " + " L ".join(f"{fx(px):.5f},{fy(py):.5f}" for px, py in pts) + " Z"
    shapes.append(dict(type="path", path=path, xref="paper", yref="paper",
                       fillcolor="#ee1a12", line=dict(width=0)))

# legend boxes
for lx in (3, 643):
    shapes.append(dict(type="rect", xref="paper", yref="paper",
                       x0=fx(lx), x1=fx(lx + 580), y0=fy(1045), y1=fy(990),
                       line=dict(color="#7d98a6", width=1), fillcolor="rgba(0,0,0,0)"))
    annotations.append(note("Legend", lx + 6, 990, 5, "#6a8a9a", xanchor="left",
                            bgcolor="white", borderpad=0))
    for k, r in enumerate(WELL_ROWS):
        sx = lx + 3 + k * 27.7
        shapes.append(dict(type="rect", xref="paper", yref="paper",
                           x0=fx(sx), x1=fx(sx + 11), y0=fy(1007), y1=fy(998),
                           fillcolor=LEGEND_COLORS[r], line=dict(width=0)))
        annotations.append(note(r, sx + 14, 1002.5, 8.5, "#333", xanchor="left"))

fig.update_layout(width=W, height=H, margin=dict(l=0, r=0, t=0, b=0),
                  paper_bgcolor="white", plot_bgcolor="white",
                  annotations=annotations, shapes=shapes, showlegend=False)
fig.write_html("out.html", config={"displayModeBar": False})
